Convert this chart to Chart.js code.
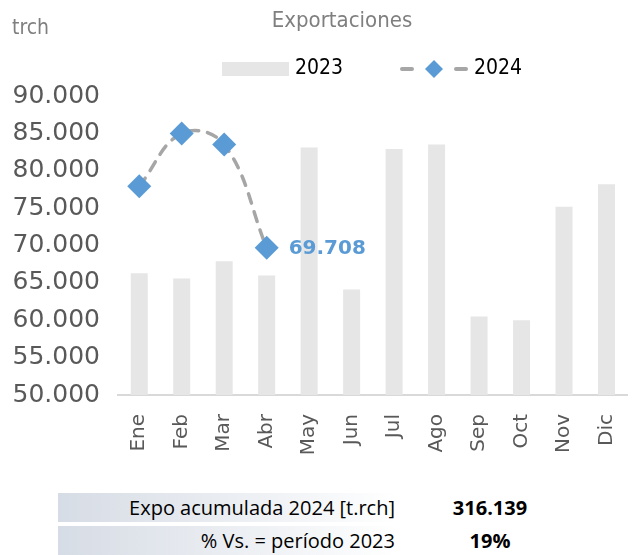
<!DOCTYPE html>
<html>
<head>
<meta charset="utf-8">
<script src="https://cdn.jsdelivr.net/npm/chart.js@4"></script>
<style>
  body { margin: 0; background: #fff; }
  .wrap { position: relative; width: 642px; height: 555px; }
  #chart { position: absolute; left: 0; top: 0; }
  .row {
    position: absolute; left: 58px; width: 340px; height: 29px;
    background: linear-gradient(to right, #d6dce5, #ffffff);
    font-family: "Open Sans", sans-serif; font-size: 20px; color: #000;
    text-align: right; line-height: 29px; box-sizing: border-box; padding-right: 3px;
  }
  .val {
    position: absolute; left: 420px; width: 140px; height: 29px; line-height: 29px;
    font-family: "Open Sans", sans-serif; font-size: 20px; font-weight: bold; text-align: center;
  }
</style>
</head>
<body>
<div class="wrap">
  <canvas id="chart" width="642" height="480"></canvas>
  <div class="row" style="top:493px">Expo acumulada 2024 [t.rch]</div>
  <div class="val" style="top:493px">316.139</div>
  <div class="row" style="top:526px">% Vs. = período 2023</div>
  <div class="val" style="top:526px">19%</div>
</div>
<script>
const months = ["Ene", "Feb", "Mar", "Abr", "May", "Jun", "Jul", "Ago", "Sep", "Oct", "Nov", "Dic"];
const expo2023 = [66300, 65600, 67900, 66000, 83100, 64100, 82900, 83500, 60500, 60000, 75200, 78200];
const expo2024 = [77931, 85000, 83500, 69708, null, null, null, null, null, null, null, null];
const yTicks = [50000, 55000, 60000, 65000, 70000, 75000, 80000, 85000, 90000];

const barGrey = "#e7e6e6";
const blue = "#5b9bd5";
const dashGrey = "#a6a6a6";

function fmt(v) {
  return v.toLocaleString("de-DE");
}

// title, unit, legend and the label of the last 2024 point
const textPlugin = {
  id: "texts",
  afterDraw(chart) {
    const ctx = chart.ctx;
    ctx.save();
    ctx.textBaseline = "middle";
    ctx.fillStyle = "#7f7f7f";
    ctx.font = "21px 'DejaVu Sans Condensed'";
    ctx.textAlign = "left";
    ctx.fillText("trch", 12, 29);
    ctx.font = "22px 'DejaVu Sans Condensed'";
    ctx.textAlign = "center";
    ctx.fillText("Exportaciones", 342, 21);

    // legend
    const ly = 69;
    ctx.fillStyle = barGrey;
    ctx.fillRect(222, ly - 7, 67, 14);
    ctx.fillStyle = "#000";
    ctx.font = "21px 'DejaVu Sans Condensed'";
    ctx.textAlign = "left";
    ctx.fillText(chart.data.datasets[0].label, 295, ly);
    ctx.strokeStyle = dashGrey;
    ctx.lineWidth = 4;
    ctx.lineCap = "round";
    ctx.beginPath();
    ctx.moveTo(402, ly); ctx.lineTo(412, ly);
    ctx.moveTo(456, ly); ctx.lineTo(466, ly);
    ctx.stroke();
    ctx.fillStyle = blue;
    ctx.beginPath();
    ctx.moveTo(434, ly - 9); ctx.lineTo(443, ly); ctx.lineTo(434, ly + 9); ctx.lineTo(425, ly);
    ctx.closePath();
    ctx.fill();
    ctx.fillStyle = "#000";
    ctx.fillText(chart.data.datasets[1].label, 474, ly);

    // data label
    const meta = chart.getDatasetMeta(1);
    let last = -1;
    expo2024.forEach((v, i) => { if (v !== null) last = i; });
    const pt = meta.data[last];
    ctx.fillStyle = blue;
    ctx.font = "bold 20px 'DejaVu Sans'";
    ctx.textAlign = "left";
    ctx.fillText(fmt(expo2024[last]), pt.x + 22, pt.y + 1);
    ctx.restore();
  }
};

new Chart(document.getElementById("chart"), {
  type: "bar",
  data: {
    labels: months,
    datasets: [
      {
        type: "bar",
        label: "2023",
        data: expo2023,
        backgroundColor: barGrey,
        barPercentage: 0.4,
        categoryPercentage: 1,
        order: 2
      },
      {
        type: "line",
        label: "2024",
        data: expo2024,
        borderColor: dashGrey,
        borderWidth: 3.5,
        borderDash: [10, 9],
        borderCapStyle: "round",
        tension: 0.4,
        pointStyle: "rectRot",
        pointRadius: 12,
        pointHoverRadius: 12,
        pointBackgroundColor: blue,
        pointBorderColor: blue,
        pointBorderWidth: 0,
        order: 1
      }
    ]
  },
  options: {
    responsive: false,
    animation: false,
    layout: { padding: { left: 0, right: 12, top: 96, bottom: 0 } },
    plugins: {
      title: { display: false },
      legend: { display: false },
      tooltip: { enabled: false }
    },
    scales: {
      x: {
        grid: { display: false },
        border: { display: true, color: "#d9d9d9", width: 2 },
        ticks: {
          color: "#595959",
          font: { family: "'DejaVu Sans'", size: 20 },
          minRotation: 90,
          maxRotation: 90,
          padding: 11
        },
        afterFit(scale) { scale.height = 85; }
      },
      y: {
        min: 50000,
        max: 90000,
        grid: { display: false },
        border: { display: false },
        afterBuildTicks(scale) { scale.ticks = yTicks.map(v => ({ value: v })); },
        ticks: {
          color: "#595959",
          font: { family: "'DejaVu Sans'", size: 25 },
          padding: 10,
          callback: v => fmt(v)
        },
        afterFit(scale) { scale.width = 118; }
      }
    }
  },
  plugins: [textPlugin]
});
</script>
</body>
</html>
